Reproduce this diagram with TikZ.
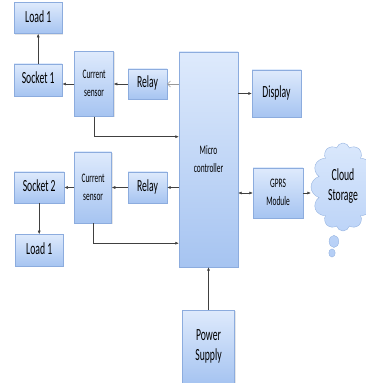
\documentclass[tikz,border=0pt]{standalone}
\usepackage{fontspec}
\setmainfont{Carlito}
\usepackage{graphicx}
\usetikzlibrary{positioning, shapes.symbols, shapes.callouts, arrows.meta, shadows}

\definecolor{boxtop}{RGB}{222,234,252}
\definecolor{boxbot}{RGB}{166,196,241}
\definecolor{boxline}{RGB}{140,172,222}

\newcommand{\narrow}[1]{\scalebox{0.57}[1]{\begin{tabular}{@{}c@{}}#1\end{tabular}}}
\newcommand{\bigtxt}{\fontsize{17}{20}\selectfont}
\newcommand{\smalltxt}{\fontsize{13}{18}\selectfont}

\begin{document}
\begin{tikzpicture}[
    x=1pt, y=1pt,
    node distance=12pt,
    block/.style={rectangle, draw=boxline, top color=boxtop, bottom color=boxbot, inner sep=0pt, font=\bigtxt, drop shadow={opacity=0.2, shadow xshift=1pt, shadow yshift=-1pt}},
    smallblock/.style={block, font=\smalltxt},
    wire/.style={draw=black!75, line width=0.5pt, -{Latex[length=3.5pt, width=3pt]}},
    feed/.style={draw=black!40, line width=0.5pt, -{Straight Barb[length=3pt, width=6pt]}},
]
\useasboundingbox (0,0) rectangle (365,383);

% Nodes
\node [smallblock, minimum width=59pt, minimum height=215pt] (micro) at (208.5,223.5) {\narrow{Micro\\controller}};
\node [block, minimum width=39pt, minimum height=30pt] (relay1) at (147.5,299) {\narrow{Relay}};
\node [smallblock, minimum width=39pt, minimum height=65pt, left=14pt of relay1] (cur1) {\narrow{Current\\sensor}};
\node [block, minimum width=48pt, minimum height=32pt, left=12pt of cur1, yshift=4pt] (sock1) {\narrow{Socket 1}};
\node [block, minimum width=48pt, minimum height=31pt, above=30pt of sock1] (load1) {\narrow{Load 1}};
\node [block, minimum width=49pt, minimum height=47pt] (disp) at (276.5,289.5) {\narrow{Display}};

\node [block, minimum width=39pt, minimum height=31pt] (relay2) at (147.5,195.5) {\narrow{Relay}};
\node [smallblock, minimum width=37pt, minimum height=71pt, left=16pt of relay2] (cur2) {\narrow{Current\\sensor}};
\node [block, minimum width=50pt, minimum height=31pt, left=10pt of cur2] (sock2) {\narrow{Socket 2}};
\node [block, minimum width=48pt, minimum height=32pt, below=31pt of sock2] (load2) {\narrow{Load 1}};

\node [smallblock, minimum width=50pt, minimum height=50pt] (gprs) at (278,190) {\narrow{GPRS\\Module}};
\node [cloud callout, draw={rgb,255:red,150;green,180;blue,225}, top color={rgb,255:red,218;green,232;blue,252}, bottom color={rgb,255:red,180;green,206;blue,246},
       cloud puffs=12, cloud ignores aspect, minimum width=64pt, minimum height=88pt, inner sep=0pt, font=\bigtxt,
       callout absolute pointer={(332,130)}] (cloud) at (343,196) {\narrow{Cloud\\Storage}};
\node [block, minimum width=52pt, minimum height=73pt, below=43pt of micro] (power) {\narrow{Power\\Supply}};

% Lines
\draw [wire] (sock1) -- (load1);
\draw [wire] (cur1.west) -- (cur1.west -| sock1.east);
\draw [wire] (relay1) -- (cur1);
\draw [feed] (micro.west |- relay1) -- (relay1.east);
\draw [wire] (micro.east |- disp) -- (disp.west);
\draw [wire] (cur1.south) |- ([yshift=-20pt]cur1.south -| micro.west);
\draw [wire] (micro.west |- relay2) -- (relay2.east);
\draw [wire] (relay2) -- (cur2);
\draw [wire] (cur2) -- (sock2);
\draw [wire] (sock2) -- (load2);
\draw [wire] (cur2.south) |- ([yshift=-20pt]cur2.south -| micro.west);
\draw [wire, {Latex[length=3.5pt, width=3pt]}-{Latex[length=3.5pt, width=3pt]}] (micro.east |- gprs) -- (gprs.west);
\draw [wire] (gprs.east) -- (gprs.east -| cloud.west);
\draw [wire] (power) -- (power |- micro.south);

\end{tikzpicture}
\end{document}
